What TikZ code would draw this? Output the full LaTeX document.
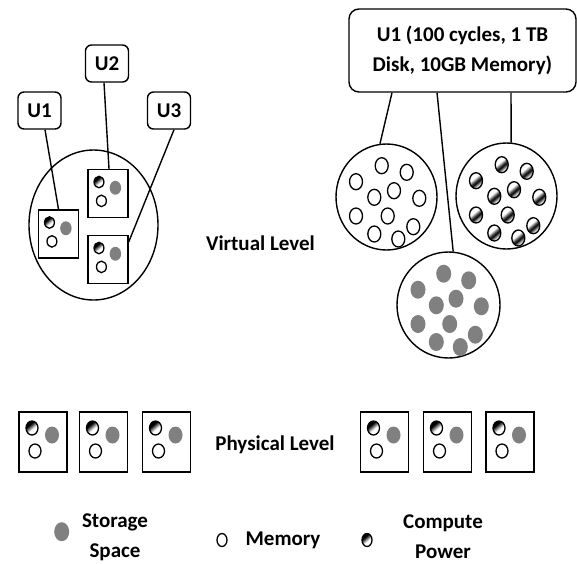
\documentclass[tikz,border=0pt]{standalone}
\usepackage{fontspec}
\setmainfont{Carlito}
\usetikzlibrary{shapes.geometric}

% glossy shades for the compute-power units (dark upper left, light lower right)
\pgfdeclareverticalshading{cpushade}{100bp}{color(0bp)=(white); color(45bp)=(white); color(65bp)=(black); color(100bp)=(black)}
\pgfdeclareverticalshading{cpustripe}{100bp}{color(0bp)=(white); color(30bp)=(white); color(44bp)=(black); color(50bp)=(black!70); color(60bp)=(white); color(72bp)=(white); color(84bp)=(black); color(100bp)=(black)}

\tikzset{
  txt/.style={font=\fontsize{21}{30}\selectfont\bfseries, align=center, inner sep=0pt},
  user/.style={draw, rounded corners=6pt, minimum width=43pt, minimum height=37pt, inner sep=0pt, txt},
  bigbox/.style={draw, rounded corners=10pt, minimum width=227pt, minimum height=83pt, inner sep=0pt, txt},
  phys/.style={draw, minimum width=48pt, minimum height=60pt, inner sep=0pt},
  virt/.style={draw, minimum width=40pt, minimum height=48pt, inner sep=0pt},
  pool/.style={draw, ellipse, inner sep=0pt},
  stor/.style={fill=gray},
  mem/.style={draw, fill=white, line width=1.3pt},
  cpu/.style={draw, line width=1.3pt, shading=cpushade, shading angle=40},
  cpupool/.style={draw, line width=1.3pt, shading=cpustripe, shading angle=40},
  server/.pic={
    \path[cpu] (-11,-14) ellipse [x radius=6, y radius=7];
    \path[stor] (9,-7) ellipse [x radius=7, y radius=8.5];
    \path[mem] (-8,9) ellipse [x radius=6, y radius=7];
  }
}

\begin{document}
\begin{tikzpicture}[x=1pt, y=-1pt, line width=1.4pt]
\useasboundingbox (0,0) rectangle (577,563);

% ---------- virtual level, left: users on one host ----------
\node[pool, minimum width=129pt, minimum height=150pt] (host) at (93.5,225) {};
\node[virt] (va) at (58.5,234) {};
\node[virt] (vb) at (108,193.5) {};
\node[virt] (vc) at (108,259.5) {};
\foreach \v in {va,vb,vc} \pic[scale=0.82] at (\v) {server};

\node[user] (u1) at (39.5,110.5) {U1};
\node[user] (u2) at (107,63.5) {U2};
\node[user] (u3) at (169,110.5) {U3};

\draw ([xshift=5.5]u1.south) -- (va.north);
\draw ([xshift=-3]u2.south) -- ([xshift=1]vb.north);
\draw ([xshift=5]u3.south) -- ([yshift=17.5]vc.east);

\node[txt] (vlevel) at (260.5,243) {Virtual Level};

% ---------- virtual level, right: one user over resource pools ----------
\node[bigbox] (req) at (462.5,50.5) {U1 (100 cycles, 1 TB\\Disk, 10GB Memory)};

\node[pool, minimum width=101pt, minimum height=106pt] (pmem) at (386.5,197) {};
\node[pool, minimum width=101pt, minimum height=106pt] (pcpu) at (506.5,196) {};
\node[pool, minimum width=103pt, minimum height=106pt] (pstor) at (448.5,305) {};

\def\spots{-4.8/-31.3,20.2/-24.7,-30.5/-15.3,7.5/-6.3,-12.2/0.3,32.8/1.3,-30.5/19,1.2/19,26.8/29.7,-12.2/37,11.8/42}
\foreach \dx/\dy in \spots {
  \path[mem] (pmem) ++(\dx,\dy) ellipse [x radius=6.5, y radius=8];
  \path[cpupool] (pcpu) ++(\dx,\dy) ellipse [x radius=6.5, y radius=8];
  \path[stor] (pstor) ++(\dx,\dy) ellipse [x radius=7.5, y radius=9];
}

\draw ([xshift=-70.5]req.south) -- (pmem.97);
\draw ([xshift=-25.5]req.south) -- (pstor.85);
\draw ([xshift=48.5]req.south) -- (pcpu.85);

% ---------- physical level ----------
\foreach \n/\x in {p1/43,p2/103.5,p3/166.5,p4/384.5,p5/447.5,p6/510} {
  \node[phys] (\n) at (\x,442) {};
  \pic at (\n) {server};
}
\node[txt] (plevel) at (275,445) {Physical Level};

% ---------- legend ----------
\path[stor] (61.7,531.7) ellipse [x radius=7.5, y radius=9.5];
\node[txt] (lstor) at (115,537) {Storage\\Space};
\path[mem] (222,540) ellipse [x radius=5, y radius=6.5];
\node[txt] (lmem) at (283,540) {Memory};
\path[cpu] (367,540) ellipse [x radius=5, y radius=6.5];
\node[txt] (lcpu) at (443,537) {Compute\\Power};
\end{tikzpicture}
\end{document}
